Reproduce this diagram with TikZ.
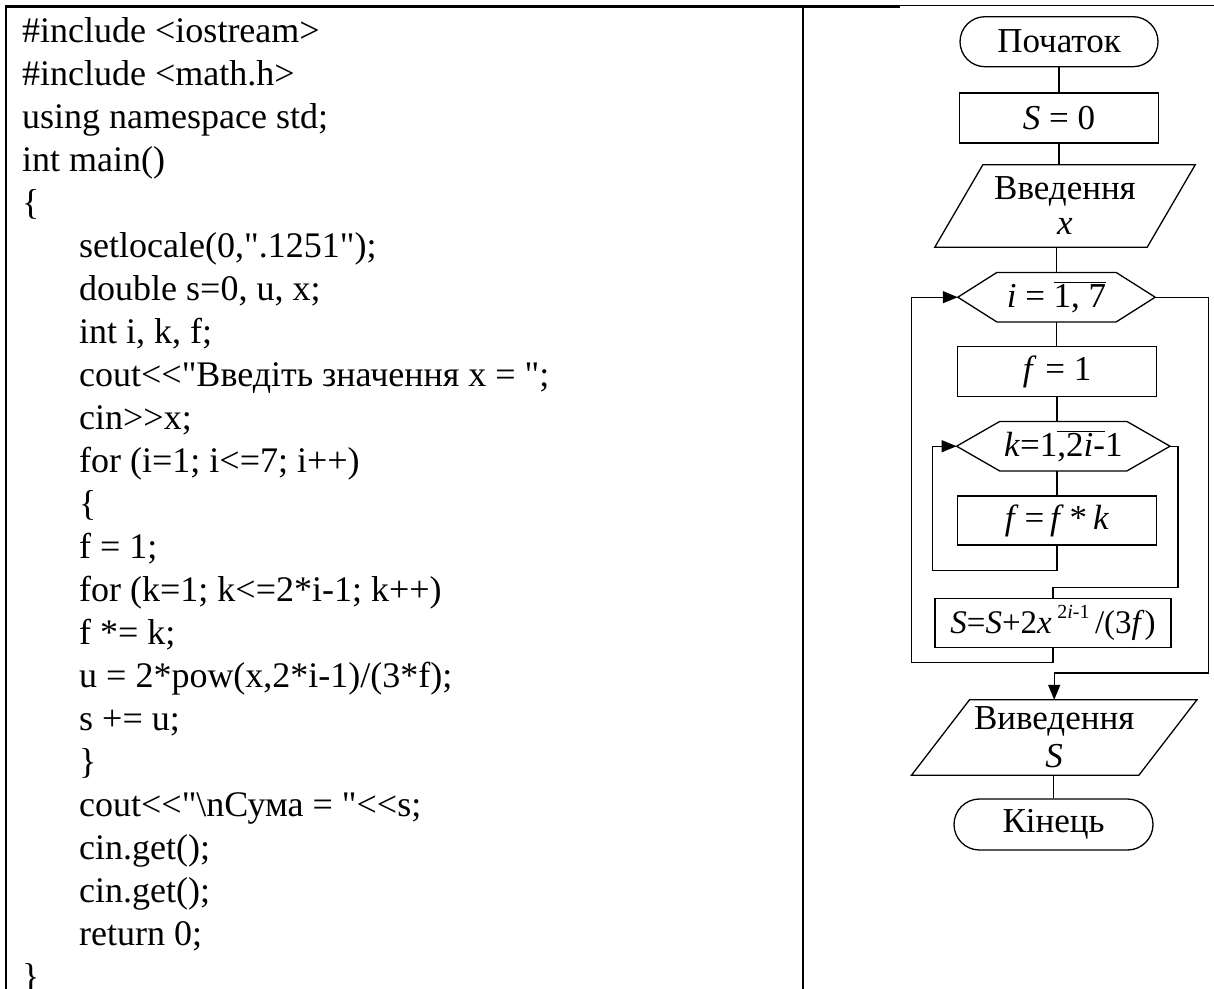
\documentclass[tikz,border=0pt]{standalone}
\usepackage{fontspec}
\setmainfont{Liberation Serif}[Ligatures=TeXOff]
\usetikzlibrary{arrows.meta,shapes.misc}

\begin{document}
\begin{tikzpicture}[x=1pt,y=-1pt,
  codeline/.style={anchor=base west,inner sep=0pt,font=\fontsize{36}{40}\selectfont},
  fc/.style={line width=1.3pt},
  fctext/.style={inner sep=0pt,font=\fontsize{35}{35}\selectfont,align=center},
  termbox/.style={fctext,rounded rectangle,draw,line width=1.3pt,minimum width=198pt,minimum height=50pt},
  procbox/.style={fctext,rectangle,draw,line width=1.3pt,minimum width=199pt,minimum height=50pt},
  shapebox/.style={fctext,rectangle},
  arr/.style={-{Triangle[length=15pt,width=12pt]}},
]
\fill[white] (0,0) rectangle (1214,988);
\useasboundingbox (0,0) rectangle (1214,988);

% table rules
\draw[line width=2.5pt] (4.8,6.3) -- (900,6.3);
\draw[line width=1.2pt] (900,5.8) -- (1214,5.8);
\draw[line width=2.5pt] (6,5) -- (6,995);
\draw[line width=2.8pt] (803,5) -- (803,995);

% program text
\node[codeline] (c1)  at (22,42)  {\#include <iostream>};
\node[codeline] (c2)  at (22,85)  {\#include <math.h>};
\node[codeline] (c3)  at (22,128) {using namespace std;};
\node[codeline] (c4)  at (22,171) {int main()};
\node[codeline] (c5)  at (22,214) {\{};
\node[codeline] (c6)  at (79,257) {setlocale(0,".1251");};
\node[codeline] (c7)  at (79,300) {double s=0, u, x;};
\node[codeline] (c8)  at (79,343) {int i, k, f;};
\node[codeline] (c9)  at (79,386) {cout<<"Введіть значення x = ";};
\node[codeline] (c10) at (79,429) {cin>>x;};
\node[codeline] (c11) at (79,472) {for (i=1; i<=7; i++)};
\node[codeline] (c12) at (79,515) {\{};
\node[codeline] (c13) at (79,558) {f = 1;};
\node[codeline] (c14) at (79,601) {for (k=1; k<=2*i-1; k++)};
\node[codeline] (c15) at (79,644) {f *= k;};
\node[codeline] (c16) at (79,687) {u = 2*pow(x,2*i-1)/(3*f);};
\node[codeline] (c17) at (79,730) {s += u;};
\node[codeline] (c18) at (79,773) {\}};
\node[codeline] (c19) at (79,816) {cout<<"\textbackslash nСума = "<<s;};
\node[codeline] (c20) at (79,859) {cin.get();};
\node[codeline] (c21) at (79,902) {cin.get();};
\node[codeline] (c22) at (79,945) {return 0;};
\node[codeline] (c23) at (22,988) {\}};

% flowchart blocks
\node[termbox] (st) at (1059,41.7) {Початок};
\node[procbox] (s0) at (1059,118) {\textit{S} = 0};
\node[shapebox,minimum width=260pt,minimum height=82pt] (inp) at (1065,206) {Введення\\\textit{x}};
\node[shapebox,minimum width=197pt,minimum height=49pt] (hi) at (1056.5,297.2) {\textit{i} = $\overline{\hbox{1, 7}}$};
\node[procbox] (f1) at (1057,371.7) {\textit{f} = 1};
\node[shapebox,minimum width=213pt,minimum height=49pt] (hk) at (1063.3,446.2) {\textit{k}=1$\overline{\hbox{,2\textit{i}-}}$1};
\node[procbox,minimum height=49pt] (fk) at (1057,520.5) {\textit{f}\,=\,\textit{f}\,*\,\textit{k}};
\node[procbox,minimum width=236pt,minimum height=49.4pt,font=\fontsize{33}{33}\selectfont] (sf) at (1053,623) {\textit{S}=\textit{S}+2\textit{x}\,\raisebox{15pt}{\fontsize{20}{20}\selectfont 2\textit{i}-1}\,/(3\textit{f})};
\node[shapebox,minimum width=285pt,minimum height=75pt] (outp) at (1054.2,737.5) {Виведення\\[3pt]\textit{S}};
\node[termbox,minimum width=199pt,minimum height=51pt] (kn) at (1053.5,824.5) {Кінець};

% hexagon outlines of the loop headers
\foreach \n/\d in {hi/39,hk/43}
  \draw[fc] (\n.west) -- ([xshift=\d pt]\n.north west) -- ([xshift=-\d pt]\n.north east)
    -- (\n.east) -- ([xshift=-\d pt]\n.south east) -- ([xshift=\d pt]\n.south west) -- cycle;
% parallelogram outlines of input and output
\foreach \n/\s in {inp/48,outp/58}
  \draw[fc] ([xshift=\s pt]\n.north west) -- (\n.north east)
    -- ([xshift=-\s pt]\n.south east) -- (\n.south west) -- cycle;

% main flow
\draw[fc] (st.south) -- (st.south |- s0.north);
\draw[fc] (s0.south) -- (s0.south |- inp.north);
\draw[fc] (inp.south -| hi.north) -- (hi.north);
\draw[fc] (hi.south) -- (hi.south |- f1.north);
\draw[fc] (f1.south) -- (f1.south |- hk.north);
\draw[fc] (hk.south -| fk.north) -- (fk.north);
\draw[fc] (outp.south -| kn.north) -- (kn.north);

% inner loop over k
\draw[fc,arr] (fk.south) -- ++(0,24.5) -| ([xshift=-24pt]hk.west) -- (hk.west);
\draw[fc] (hk.east) -- ++(8,0) |- ([yshift=10.5pt]sf.north) -- (sf.north);

% outer loop over i
\draw[fc,arr] (sf.south) -- ++(0,14) -| ([xshift=-46pt]hi.west) -- (hi.west);
\draw[fc,arr] (hi.east) -- ++(53,0) |- ([yshift=26.7pt]outp.north) -- (outp.north);
\end{tikzpicture}
\end{document}
